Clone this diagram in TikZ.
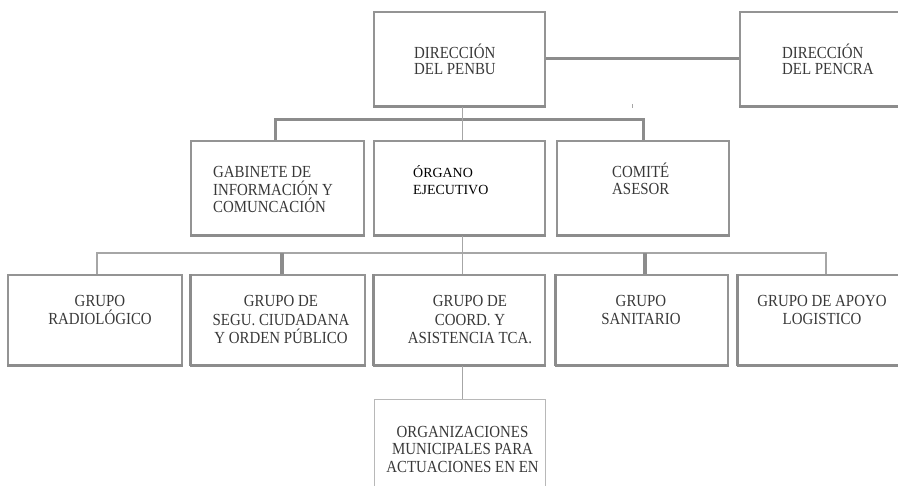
\documentclass[tikz,border=0pt]{standalone}
\usepackage{fontspec}
\setmainfont[FakeStretch=0.88]{Liberation Serif}
\newfontfamily\plainserif{Liberation Serif}
\usepackage{tikz}
\usetikzlibrary{positioning, calc}

\begin{document}
\begin{tikzpicture}[x=1bp, y=-1bp,
  box/.style={draw=black!42, line width=1.5bp, inner sep=0pt, minimum width=171bp, minimum height=94bp},
  lbl/.style={inner sep=0pt, text=black!78, font=\fontsize{17}{18}\selectfont},
  link/.style={draw=black!45, line width=3bp},
  fine/.style={draw=black!35, line width=1.3bp}]
\useasboundingbox (0,0) rectangle (898,486);
% boxes
\node[box] (penbu) at (459.5,59) {};
\node[box, minimum width=182bp] (pencra) at (831,59) {};
\node[box, minimum width=173bp] (gab) at (277.5,188) {};
\node[box] (org) at (459.5,188) {};
\node[box, minimum width=172bp] (com) at (643,188) {};
\node[box, minimum width=174bp, minimum height=90bp] (rad) at (95,320) {};
\node[box, minimum width=174bp, minimum height=90bp] (seg) at (278,320) {};
\node[box, minimum height=90bp] (coo) at (459.5,320) {};
\node[box, minimum width=172bp, minimum height=90bp] (san) at (642,320) {};
\node[box, minimum width=182bp, minimum height=90bp] (apo) at (829,320) {};
\node[box, draw=black!28, line width=1bp, minimum height=102bp] (mun) at (459.5,450) {};
% heavier bottom and left edges
\foreach \b in {penbu,pencra,gab,org,com,rad,seg,coo,san,apo}
  \draw[draw=black!45, line width=3bp] (\b.south west) -- (\b.south east);
\foreach \b in {seg,coo,san,apo}
  \draw[draw=black!45, line width=3.5bp] (\b.south west) -- (\b.north west);
% texts (base = last line)
\node[lbl, anchor=base west, align=left, font=\fontsize{17}{16.5}\selectfont] (penbu-t) at (414,74.5) {DIRECCIÓN\\DEL PENBU};
\node[lbl, anchor=base west, align=left, font=\fontsize{17}{16.5}\selectfont] (pencra-t) at (782,75) {DIRECCIÓN\\DEL PENCRA};
\node[lbl, anchor=base west, align=left] (gab-t) at (213,213) {GABINETE DE\\INFORMACIÓN Y\\COMUNCACIÓN};
\node[lbl, anchor=base west, align=left, text=black, font=\plainserif\fontsize{14}{18}\selectfont] (org-t) at (413,195) {ÓRGANO\\EJECUTIVO};
\node[lbl, anchor=base west, align=left] (com-t) at (612,195) {COMITÉ\\ASESOR};
\node[lbl, anchor=base, align=center, font=\fontsize{17}{19}\selectfont] (rad-t) at (100,325) {GRUPO\\RADIOLÓGICO};
\node[lbl, anchor=base, align=center, font=\fontsize{17}{19}\selectfont] (seg-t) at (281,344) {GRUPO DE\\SEGU. CIUDADANA\\Y ORDEN PÚBLICO};
\node[lbl, anchor=base, align=center, font=\fontsize{17}{19}\selectfont] (coo-t) at (470,344) {GRUPO DE\\COORD. Y\\ASISTENCIA TCA.};
\node[lbl, anchor=base, align=center, font=\fontsize{17}{19}\selectfont] (san-t) at (641,325) {GRUPO\\SANITARIO};
\node[lbl, anchor=base, align=center, font=\fontsize{17}{19}\selectfont] (apo-t) at (822,325) {GRUPO DE APOYO\\LOGISTICO};
\node[lbl, anchor=base, align=center, font=\fontsize{17}{17.5}\selectfont] (mun-t) at (462.5,472) {ORGANIZACIONES\\MUNICIPALES PARA\\ACTUACIONES EN EN};
% connectors
\coordinate (top) at (462.5,120);
\coordinate (busL) at (97,253);
\coordinate (busR) at (826,253);
\coordinate (tick) at (632,106);
\draw[link] (penbu.east) -- (pencra.west);
\draw[link] ([xshift=-2.5bp]gab.north) |- (top) -| (com.north);
\draw[fine] (penbu.south -| top) -- (org.north -| top);
\draw[fine] (org.south -| top) -- (coo.north -| top);
\draw[fine] (busL |- rad.north) -- (busL) -- (busR) -- (busR |- apo.north);
\draw[link, line width=4bp] ([xshift=4bp]seg.north) -- ([xshift=4bp]seg.north |- busL);
\draw[link, line width=4bp] ([xshift=3bp]san.north) -- ([xshift=3bp]san.north |- busL);
\draw[fine] (coo.south -| top) -- (mun.north -| top);
\draw[fine, line width=0.8bp] ([yshift=-2bp]tick) -- ([yshift=2bp]tick);
\end{tikzpicture}
\end{document}
